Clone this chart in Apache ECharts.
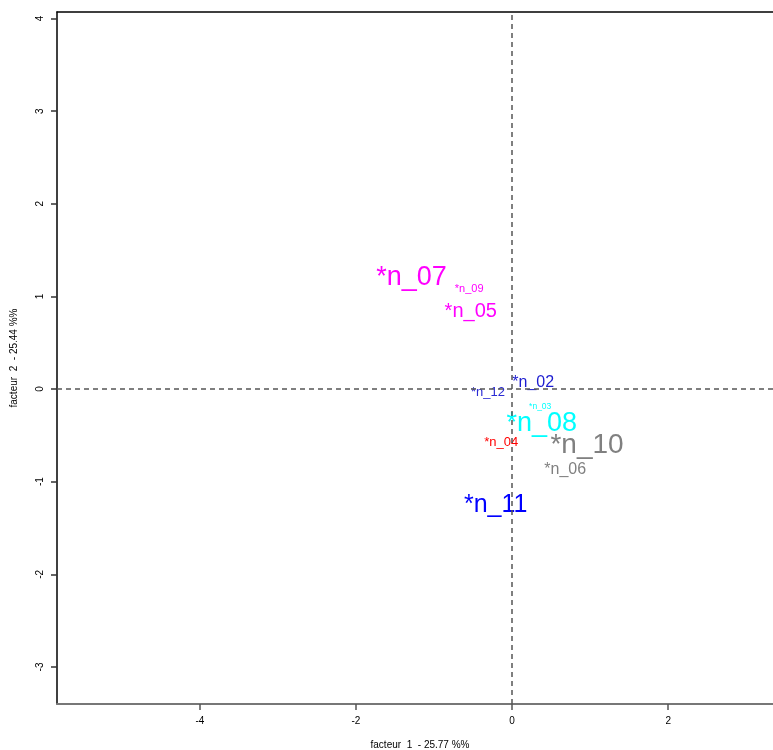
<!DOCTYPE html>
<html>
<head>
<meta charset="utf-8">
<script src="https://cdn.jsdelivr.net/npm/echarts@6/dist/echarts.min.js"></script>
<style>html,body{margin:0;padding:0;background:#fff}#c{width:773px;height:750px}</style>
</head>
<body>
<div id="c"></div>
<script>
var labels = ['*n_07','*n_09','*n_05','*n_02','*n_12','*n_03','*n_08','*n_04','*n_10','*n_06','*n_11'];
var xVals = [-1.29, -0.55, -0.53, 0.27, -0.31, 0.36, 0.38, -0.14, 0.96, 0.68, -0.21];
var yVals = [1.22, 1.10, 0.86, 0.09, -0.01, -0.17, -0.35, -0.55, -0.59, -0.85, -1.23];
var sizes = [27, 11, 20, 16, 13, 8.5, 27, 13, 28, 16, 25];
var colors = ['#ff00ff','#ff00ff','#ff00ff','#1c1cd0','#2a2ad4','#00ffff','#00ffff','#ff0000','#808080','#808080','#0000ff'];
var xTicks = [-4, -2, 0, 2];
var yTicks = [-3, -2, -1, 0, 1, 2, 3, 4];
var xTitle = 'facteur  1  - 25.77 %%';
var yTitle = 'facteur  2  - 25.44 %%';

var FONT = 'Liberation Sans';
var data = labels.map(function (l, i) {
  return {
    value: [xVals[i], yVals[i]],
    itemStyle: { opacity: 1 },
    label: { show: true, position: 'inside', offset: [0, 2], formatter: l, color: colors[i], opacity: 1, fontSize: sizes[i], fontFamily: FONT }
  };
});

var chart = echarts.init(document.getElementById('c'));
chart.setOption({
  animation: false,
  grid: { left: 57, top: 12, right: -10, bottom: 46, containLabel: false, outerBoundsMode: 'none' },
  xAxis: [{
    type: 'value', min: -5.83, max: 3.47, position: 'bottom',
    axisLine: { show: true, onZero: false, lineStyle: { color: '#777', width: 2 } },
    axisTick: { show: true, length: 6, customValues: xTicks, lineStyle: { color: '#555', width: 1.5 } },
    axisLabel: { customValues: xTicks, margin: 12, fontSize: 10, color: '#000', fontFamily: FONT },
    splitLine: { show: false },
    name: xTitle, nameLocation: 'middle', nameGap: 36,
    nameTextStyle: { fontSize: 10, color: '#000', fontFamily: FONT }
  }, {
    type: 'value', min: -5.83, max: 3.47, position: 'top',
    axisLine: { show: true, onZero: false, lineStyle: { color: '#000', width: 1.5 } },
    axisTick: { show: false }, axisLabel: { show: false }, splitLine: { show: false }
  }],
  yAxis: {
    type: 'value', min: -3.40, max: 4.07,
    axisLine: { show: true, onZero: false, lineStyle: { color: '#000', width: 1.5 } },
    axisTick: { show: true, length: 6, customValues: yTicks, lineStyle: { color: '#333', width: 1.5 } },
    axisLabel: { customValues: yTicks, rotate: 90, margin: 12, fontSize: 10, color: '#000', fontFamily: FONT },
    splitLine: { show: false },
    name: yTitle, nameLocation: 'middle', nameGap: 38,
    nameTextStyle: { fontSize: 10, color: '#000', fontFamily: FONT }
  },
  series: [{
    type: 'scatter',
    symbolSize: 0,
    itemStyle: { opacity: 1 },
    data: data,
    markLine: {
      silent: true, symbol: 'none', label: { show: false },
      lineStyle: { type: [5, 4], color: '#555', width: 1.5, opacity: 1 },
      data: [{ xAxis: 0 }, { yAxis: 0 }]
    }
  }]
});
</script>
</body>
</html>
